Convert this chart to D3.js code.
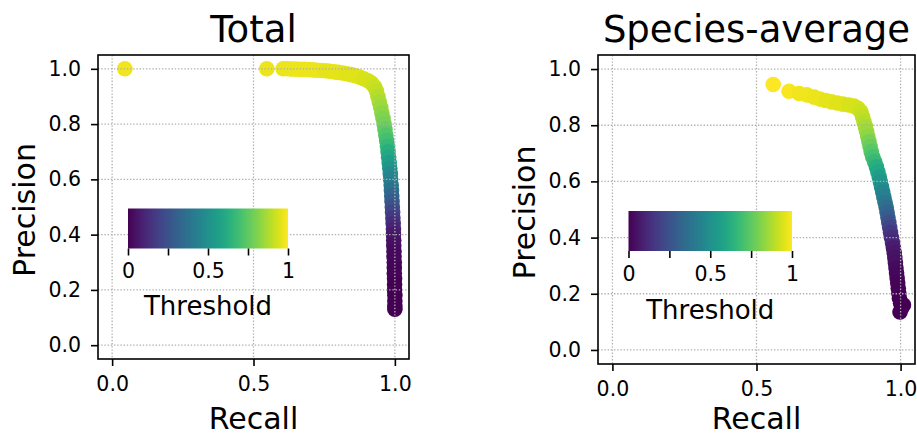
<!DOCTYPE html>
<html>
<head>
<meta charset="utf-8">
<script src="https://cdn.jsdelivr.net/npm/d3@7"></script>
<style>
  body { margin: 0; background: #fff; }
  text { font-family: "DejaVu Sans", sans-serif; fill: #000; }
</style>
</head>
<body>
<div id="chart"></div>
<script>
// Total curve: recall, precision, threshold
const totalRecall = [0.045, 0.547, 0.605, 0.62, 0.635, 0.65, 0.665, 0.68, 0.695, 0.71, 0.725, 0.74, 0.755, 0.77,
  0.785, 0.80, 0.815, 0.83, 0.845, 0.86, 0.875, 0.89, 0.905, 0.918, 0.928, 0.935, 0.940, 0.945, 0.950, 0.954,
  0.958, 0.962, 0.965, 0.968, 0.971, 0.974, 0.976, 0.978, 0.980, 0.982, 0.984, 0.985, 0.987, 0.988, 0.989,
  0.990, 0.991, 0.992, 0.993, 0.994, 0.995, 0.995, 0.996, 0.996, 0.997, 0.997, 0.998, 0.998, 0.998, 0.999,
  0.999, 0.999, 1.0, 1.0, 1.0, 1.0];
const totalPrecision = [1.0, 1.0, 1.0, 1.0, 0.999, 0.999, 0.998, 0.998, 0.997, 0.996, 0.995, 0.994, 0.993, 0.991,
  0.989, 0.987, 0.985, 0.982, 0.979, 0.975, 0.970, 0.964, 0.957, 0.948, 0.935, 0.92, 0.90, 0.88, 0.86, 0.84,
  0.82, 0.80, 0.78, 0.76, 0.74, 0.72, 0.70, 0.68, 0.66, 0.64, 0.62, 0.60, 0.58, 0.56, 0.54,
  0.52, 0.50, 0.48, 0.46, 0.44, 0.42, 0.40, 0.38, 0.36, 0.34, 0.32, 0.30, 0.28, 0.26, 0.24,
  0.22, 0.20, 0.18, 0.16, 0.14, 0.13];
const totalThreshold = [0.98, 0.97, 0.97, 0.97, 0.97, 0.97, 0.97, 0.97, 0.97, 0.97, 0.97, 0.97, 0.96, 0.96,
  0.96, 0.96, 0.96, 0.95, 0.95, 0.95, 0.95, 0.94, 0.94, 0.93, 0.92, 0.91, 0.89, 0.87, 0.85, 0.83,
  0.81, 0.79, 0.76, 0.73, 0.70, 0.67, 0.63, 0.60, 0.56, 0.52, 0.48, 0.45, 0.41, 0.37, 0.33,
  0.29, 0.25, 0.21, 0.17, 0.13, 0.10, 0.07, 0.05, 0.04, 0.03, 0.02, 0.02, 0.01, 0.01, 0.01,
  0.0, 0.0, 0.0, 0.0, 0.0, 0.0];

// Species-average curve
const speciesRecall = [0.558, 0.613, 0.648, 0.675, 0.700, 0.720, 0.740, 0.760, 0.780, 0.800, 0.820, 0.838,
  0.852, 0.862, 0.868, 0.873, 0.878, 0.882, 0.886, 0.890, 0.894, 0.898, 0.903, 0.910, 0.916, 0.921, 0.926,
  0.930, 0.934, 0.938, 0.942, 0.946, 0.950, 0.953, 0.956, 0.959, 0.962, 0.965, 0.968, 0.972, 0.975, 0.978,
  0.980, 0.982, 0.984, 0.986, 0.988, 0.990, 0.992, 0.994, 0.996, 1.000, 1.010, 1.004, 0.998];
const speciesPrecision = [0.945, 0.921, 0.913, 0.908, 0.900, 0.893, 0.888, 0.883, 0.879, 0.875, 0.872, 0.868,
  0.860, 0.848, 0.830, 0.812, 0.795, 0.778, 0.760, 0.742, 0.724, 0.706, 0.688, 0.670, 0.652, 0.634, 0.616,
  0.598, 0.580, 0.562, 0.544, 0.526, 0.508, 0.490, 0.472, 0.454, 0.436, 0.418, 0.400, 0.382, 0.364, 0.346,
  0.328, 0.310, 0.292, 0.274, 0.256, 0.238, 0.220, 0.202, 0.184, 0.166, 0.160, 0.150, 0.135];
const speciesThreshold = [1.00, 0.99, 0.98, 0.98, 0.97, 0.97, 0.96, 0.96, 0.95, 0.95, 0.94, 0.94,
  0.93, 0.92, 0.91, 0.89, 0.87, 0.85, 0.83, 0.80, 0.77, 0.74, 0.71, 0.67, 0.63, 0.60, 0.56,
  0.53, 0.50, 0.46, 0.43, 0.40, 0.36, 0.33, 0.29, 0.25, 0.21, 0.17, 0.14, 0.11, 0.08, 0.06,
  0.05, 0.04, 0.03, 0.02, 0.02, 0.01, 0.01, 0.01, 0.0, 0.0, 0.0, 0.0, 0.0];

const axisTicks = [0, 0.2, 0.4, 0.6, 0.8, 1.0];
const xTicks = [0, 0.5, 1.0];
const cbarTicks = [0, 0.25, 0.5, 0.75, 1];
const cbarLabels = {0: "0", 0.5: "0.5", 1: "1"};

const width = 917, height = 436;
const svg = d3.select("#chart")
  .append("svg")
  .attr("width", width)
  .attr("height", height);

svg.append("rect").attr("width", width).attr("height", height).attr("fill", "#fff");

const color = d3.scaleSequential(d3.interpolateViridis).domain([0, 1]);

// gradient for the colorbars
const grad = svg.append("defs").append("linearGradient")
  .attr("id", "viridis")
  .attr("x1", "0%").attr("x2", "100%");
d3.range(0, 1.0001, 0.05).forEach(t => {
  grad.append("stop").attr("offset", (t * 100) + "%").attr("stop-color", color(t));
});

const panels = [
  { title: "Total", recall: totalRecall, precision: totalPrecision, threshold: totalThreshold,
    box: [98, 409, 55, 359], cbar: [128, 288, 208.5, 248.5], titleY: 42, recallY: 429,
    precX: 35, threshY: 315, id: "a" },
  { title: "Species-average", recall: speciesRecall, precision: speciesPrecision, threshold: speciesThreshold,
    box: [598, 915, 55, 364], cbar: [628.5, 792, 211, 251], titleY: 42, recallY: 429,
    precX: 535, threshY: 319, id: "b" }
];

panels.forEach(p => {
  const [x0, x1, y0, y1] = p.box;
  const x = d3.scaleLinear().domain([-0.05, 1.05]).range([x0, x1]);
  const y = d3.scaleLinear().domain([-0.05, 1.05]).range([y1, y0]);
  const g = svg.append("g");

  g.append("clipPath").attr("id", "clip-" + p.id)
    .append("rect").attr("x", x0).attr("y", y0).attr("width", x1 - x0).attr("height", y1 - y0);

  // points
  const pts = p.recall.map((r, i) => ({ r: r, p: p.precision[i], t: p.threshold[i] }));
  g.append("g").attr("clip-path", `url(#clip-${p.id})`)
    .selectAll("circle")
    .data(pts)
    .join("circle")
    .attr("cx", d => x(d.r))
    .attr("cy", d => y(d.p))
    .attr("r", 7.8)
    .attr("fill", d => color(d.t));

  // grid (drawn above the points)
  const grid = g.append("g")
    .attr("stroke", "#b0b0b0")
    .attr("stroke-width", 1.3)
    .attr("stroke-dasharray", "1.4,1.8");
  xTicks.forEach(v => {
    grid.append("line").attr("x1", x(v)).attr("x2", x(v)).attr("y1", y0).attr("y2", y1);
  });
  axisTicks.forEach(v => {
    grid.append("line").attr("x1", x0).attr("x2", x1).attr("y1", y(v)).attr("y2", y(v));
  });

  // colorbar
  const [cx0, cx1, cy0, cy1] = p.cbar;
  g.append("rect")
    .attr("x", cx0).attr("y", cy0)
    .attr("width", cx1 - cx0).attr("height", cy1 - cy0)
    .attr("fill", "url(#viridis)");
  const cScale = d3.scaleLinear().domain([0, 1]).range([cx0, cx1]);
  const cAxis = g.append("g")
    .attr("transform", `translate(0, ${cy1})`)
    .call(d3.axisBottom(cScale).tickValues(cbarTicks)
      .tickFormat(d => cbarLabels[d] || "").tickSize(7).tickPadding(8));
  cAxis.select(".domain").remove();
  cAxis.selectAll("line").attr("stroke", "#000").attr("stroke-width", 1.6);
  cAxis.selectAll("text").style("font-size", "20.5px").style("font-family", "DejaVu Sans");

  g.append("text")
    .attr("x", (cx0 + cx1) / 2)
    .attr("y", p.threshY)
    .attr("text-anchor", "middle")
    .style("font-size", "26px")
    .text("Threshold");

  // axes
  const xAxis = g.append("g")
    .attr("transform", `translate(0, ${y1})`)
    .call(d3.axisBottom(x).tickValues(xTicks).tickFormat(d3.format(".1f")).tickSize(7).tickPadding(10));
  const yAxis = g.append("g")
    .attr("transform", `translate(${x0}, 0)`)
    .call(d3.axisLeft(y).tickValues(axisTicks).tickFormat(d3.format(".1f")).tickSize(7).tickPadding(10));
  [xAxis, yAxis].forEach(a => {
    a.select(".domain").remove();
    a.selectAll("line").attr("stroke", "#000").attr("stroke-width", 1.6);
    a.selectAll("text").style("font-size", "20.5px").style("font-family", "DejaVu Sans");
  });

  // frame
  g.append("rect")
    .attr("x", x0).attr("y", y0)
    .attr("width", x1 - x0).attr("height", y1 - y0)
    .attr("fill", "none")
    .attr("stroke", "#000")
    .attr("stroke-width", 1.6);

  // labels
  g.append("text")
    .attr("x", (x0 + x1) / 2)
    .attr("y", p.titleY)
    .attr("text-anchor", "middle")
    .style("font-size", "37px")
    .text(p.title);

  g.append("text")
    .attr("x", (x0 + x1) / 2)
    .attr("y", p.recallY)
    .attr("text-anchor", "middle")
    .style("font-size", "30px")
    .text("Recall");

  g.append("text")
    .attr("transform", `translate(${p.precX}, ${(y0 + y1) / 2 + 3}) rotate(-90)`)
    .attr("text-anchor", "middle")
    .style("font-size", "30px")
    .text("Precision");
});
</script>
</body>
</html>
